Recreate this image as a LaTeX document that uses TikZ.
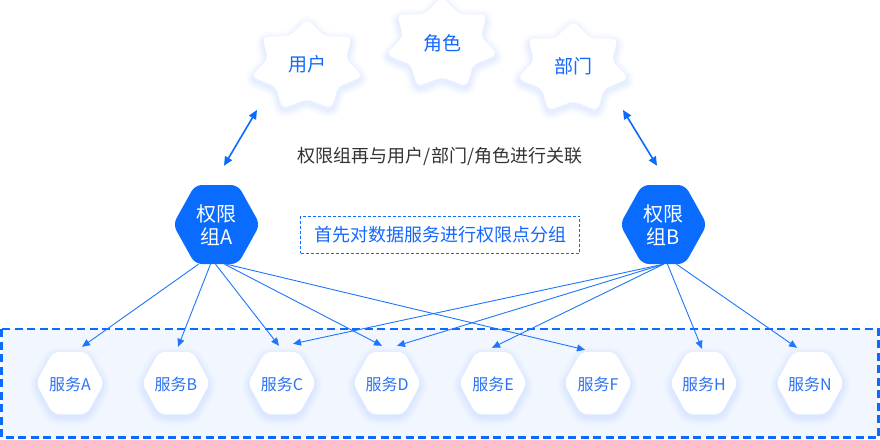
\documentclass[tikz,border=0pt]{standalone}
\usepackage{fontspec}
\setmainfont{Noto Sans CJK SC}
\usetikzlibrary{arrows.meta,calc}
\definecolor{hexblue}{HTML}{0A6BFF}
\definecolor{lineblue}{HTML}{1F75FE}
\definecolor{svctext}{HTML}{2C72F2}
\definecolor{startext}{HTML}{1468FF}
\definecolor{graytext}{HTML}{333333}
\definecolor{boxfill}{HTML}{F2F7FF}
\definecolor{glowc}{HTML}{7FACFF}

\newcommand\hexpath[3]{(-#1,0)--(-#2,-#3)--(#2,-#3)--(#1,0)--(#2,#3)--(-#2,#3)--cycle}
\newcommand\starpath{(0,-47) \foreach \i [evaluate=\i as \rx using {mod(\i,2)==0?57:40}, evaluate=\i as \ry using {mod(\i,2)==0?47:33}] in {1,...,13}{ -- ({\rx*cos(-90+\i*360/14)},{\ry*sin(-90+\i*360/14)}) } -- cycle}
\newcommand\softshape[3]{%
  \begin{scope}[shift={#1}]
    \foreach \w/\o in {16/0.03,12/0.04,8/0.05,4/0.07}{\draw[glowc, line width=\w pt, opacity=\o, rounded corners=#3, yshift=-3pt, line join=round] #2;}
    \fill[white, rounded corners=#3] #2;
  \end{scope}}

\tikzset{
  startxt/.style={text=startext, font=\fontsize{19}{22}\selectfont, inner sep=0pt},
  svc/.style={text=svctext, font=\fontsize{16}{19}\selectfont, minimum width=34pt, minimum height=62pt, inner sep=0pt},
  grpnode/.style={text=white, font=\fontsize{20}{23}\selectfont, align=center, minimum width=43pt, minimum height=79pt, inner sep=0pt},
  conn/.style={draw=lineblue, line width=0.9pt, -{Triangle[length=8pt,width=7pt]}},
  dbl/.style={draw=hexblue, line width=1.6pt, {Triangle[length=9pt,width=8pt]}-{Triangle[length=9pt,width=8pt]}}
}

\begin{document}
\begin{tikzpicture}[x=1pt,y=-1pt]
\useasboundingbox (0,0) rectangle (880,439);
\fill[white] (0,0) rectangle (880,439);
% service container
\draw[hexblue, fill=boxfill, line width=2.2pt, dash pattern=on 8pt off 4.5pt] (1.5,329) rectangle (878.5,437.5);

% stars
\softshape{(307,66)}{\starpath}{5}
\softshape{(442,44)}{\starpath}{5}
\softshape{(573,68)}{\starpath}{5}
\node[startxt] (user) at (307,64) {用户};
\node[startxt] (role) at (442,43) {角色};
\node[startxt] (dept) at (573,66) {部门};

% permission group hexagons
\fill[hexblue, rounded corners=7pt, shift={(216.5,224.5)}] \hexpath{43.5}{21.5}{39.5};
\fill[hexblue, rounded corners=7pt, shift={(663.5,224.5)}] \hexpath{43.5}{21.5}{39.5};
\node[grpnode] (ga) at (216.5,225.5) {权限\\组A};
\node[grpnode] (gb) at (663.5,225.5) {权限\\组B};

% texts
\node[text=graytext, font=\fontsize{18}{21}\selectfont] (rel) at (440,157) {权限组再与用户/部门/角色进行关联};
\node[draw=hexblue, line width=0.9pt, dash pattern=on 3pt off 2pt, text=startext, font=\fontsize{18}{21}\selectfont, minimum width=279pt, minimum height=37pt, inner sep=0pt] (grp) at (440,234.5) {首先对数据服务进行权限点分组};

% services
\foreach \x/\n/\l in {70/sA/A,176/sB/B,282/sC/C,387/sD/D,493/sE/E,598/sF/F,704/sH/H,810/sN/N}{
  \softshape{(\x,383)}{\hexpath{34}{17}{31}}{6}
  \node[svc] (\n) at (\x,384) {服务\l};
}

% double arrows
\draw[dbl] ($(ga.north)+(7.5,-20)$) -- ($(user.center)+(-50,46)$);
\draw[dbl] ($(gb.north)+(-6.5,-20)$) -- ($(dept.center)+(50,44)$);

% connectors from group A
\draw[conn] ([xshift=-18pt,yshift=1pt]ga.south) -- ([xshift=12pt,yshift=6pt]sA.north);
\draw[conn] ([xshift=-6pt,yshift=1pt]ga.south) -- ([xshift=2pt,yshift=6pt]sB.north);
\draw[conn] ([xshift=-1pt,yshift=1pt]ga.south) -- ([xshift=-3pt,yshift=7pt]sC.north);
\draw[conn] ([xshift=8pt,yshift=1pt]ga.south) -- ([xshift=-5pt,yshift=7pt]sD.north);
\draw[conn] ([xshift=10pt,yshift=1pt]ga.south) -- ([xshift=-13pt,yshift=3pt]sF.north);
% connectors from group B
\draw[conn] ([yshift=1pt]gb.south) -- ([xshift=11pt,yshift=9pt]sC.north);
\draw[conn] ([yshift=1pt]gb.south) -- ([xshift=10pt,yshift=7pt]sD.north);
\draw[conn] ([yshift=1pt]gb.south) -- ([xshift=-1pt,yshift=5pt]sE.north);
\draw[conn] ([xshift=4pt,yshift=1pt]gb.south) -- ([xshift=-2pt,yshift=4pt]sH.north);
\draw[conn] ([xshift=13pt,yshift=1pt]gb.south) -- ([xshift=-13pt,yshift=5pt]sN.north);
\end{tikzpicture}
\end{document}
